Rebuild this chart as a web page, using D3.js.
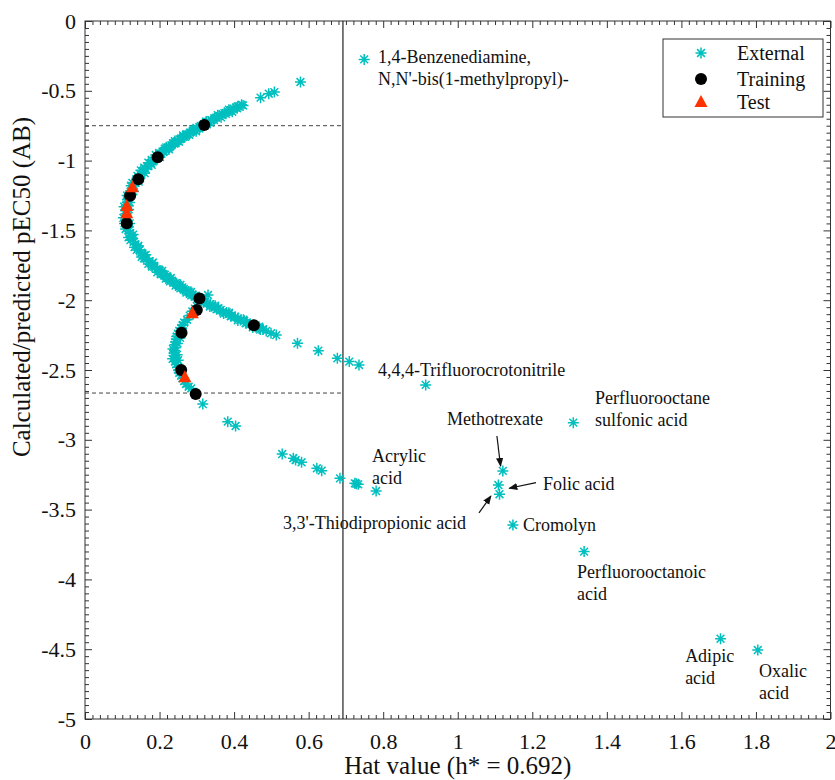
<!DOCTYPE html>
<html>
<head>
<meta charset="utf-8">
<script src="https://cdn.jsdelivr.net/npm/d3@7"></script>
<style>
  body { margin: 0; background: #fff; }
  svg { display: block; font-family: "Liberation Serif", "Times New Roman", serif; }
</style>
</head>
<body>
<svg id="chart" width="835" height="780"></svg>
<script>
// Williams-type applicability domain plot: hat value vs calculated/predicted pEC50
const hatThreshold = 0.692;
const domainBounds = [-0.75, -2.665];

const xTickValues = [0, 0.2, 0.4, 0.6, 0.8, 1, 1.2, 1.4, 1.6, 1.8, 2];
const xTickLabels = ["0", "0.2", "0.4", "0.6", "0.8", "1", "1.2", "1.4", "1.6", "1.8", "2"];
const yTickValues = [0, -0.5, -1, -1.5, -2, -2.5, -3, -3.5, -4, -4.5, -5];
const yTickLabels = ["0", "-0.5", "-1", "-1.5", "-2", "-2.5", "-3", "-3.5", "-4", "-4.5", "-5"];

// External set: [hat value, predicted pEC50]
const externalPoints = [
  // upper arm of the main band
  [0.420,-0.600],[0.410,-0.612],[0.405,-0.620],[0.399,-0.628],[0.389,-0.642],[0.383,-0.648],
  [0.374,-0.660],[0.369,-0.668],[0.360,-0.680],[0.352,-0.692],[0.347,-0.698],[0.339,-0.710],
  [0.331,-0.722],[0.326,-0.728],[0.319,-0.740],[0.311,-0.752],[0.307,-0.758],[0.300,-0.770],
  [0.293,-0.782],[0.289,-0.788],[0.282,-0.800],[0.275,-0.812],[0.271,-0.818],[0.264,-0.830],
  [0.258,-0.842],[0.254,-0.848],[0.248,-0.860],[0.242,-0.872],[0.239,-0.878],[0.232,-0.890],
  [0.227,-0.902],[0.224,-0.908],[0.218,-0.920],[0.212,-0.932],[0.210,-0.938],[0.204,-0.950],
  [0.199,-0.962],[0.197,-0.968],[0.192,-0.980],[0.184,-1.000],[0.177,-1.020],[0.168,-1.040],
  [0.163,-1.060],[0.155,-1.080],[0.150,-1.100],[0.143,-1.120],[0.140,-1.140],[0.134,-1.160],
  [0.131,-1.180],[0.126,-1.200],[0.124,-1.220],[0.119,-1.240],[0.118,-1.260],[0.114,-1.280],
  [0.113,-1.300],[0.111,-1.320],[0.112,-1.340],[0.109,-1.360],[0.110,-1.380],
  [0.105,-1.330],[0.113,-1.250],[0.124,-1.180],[0.141,-1.110],[0.159,-1.050],[0.179,-0.995],
  [0.199,-0.945],[0.218,-0.905],[0.241,-0.860],[0.263,-0.820],[0.290,-0.775],[0.325,-0.720],
  [0.356,-0.675],[0.386,-0.635],
  [0.120,-1.300],[0.130,-1.220],[0.144,-1.150],[0.160,-1.090],[0.179,-1.030],[0.201,-0.975],
  [0.225,-0.920],[0.252,-0.865],[0.280,-0.815],[0.307,-0.770],[0.346,-0.710],[0.378,-0.665],
  [0.408,-0.625],[0.424,-0.605],
  [0.117,-1.350],[0.116,-1.270],[0.127,-1.160],[0.150,-1.070],[0.170,-1.015],[0.190,-0.960],
  [0.214,-0.915],[0.236,-0.875],[0.268,-0.830],[0.298,-0.790],[0.336,-0.730],[0.365,-0.690],
  [0.395,-0.650],
  // lower arm of the main band
  [0.111,-1.400],[0.110,-1.420],[0.112,-1.440],[0.114,-1.460],[0.115,-1.480],[0.117,-1.500],
  [0.121,-1.520],[0.123,-1.540],[0.128,-1.560],[0.131,-1.580],[0.135,-1.600],[0.142,-1.620],
  [0.146,-1.640],[0.151,-1.660],[0.159,-1.680],[0.164,-1.700],[0.172,-1.720],[0.180,-1.740],
  [0.186,-1.760],[0.195,-1.780],[0.201,-1.788],[0.204,-1.800],[0.208,-1.812],[0.214,-1.818],
  [0.218,-1.830],[0.222,-1.842],[0.229,-1.848],[0.233,-1.860],[0.237,-1.872],[0.244,-1.878],
  [0.249,-1.890],[0.253,-1.902],[0.261,-1.908],[0.265,-1.920],[0.270,-1.932],[0.278,-1.938],
  [0.283,-1.950],[0.288,-1.962],[0.297,-1.968],[0.302,-1.980],[0.307,-1.992],[0.316,-1.998],
  [0.322,-2.010],[0.327,-2.022],[0.336,-2.028],[0.342,-2.040],[0.348,-2.052],[0.358,-2.058],
  [0.364,-2.070],[0.370,-2.082],[0.380,-2.088],[0.386,-2.100],[0.393,-2.112],[0.403,-2.118],
  [0.410,-2.130],[0.417,-2.142],[0.427,-2.148],[0.434,-2.160],[0.442,-2.172],[0.452,-2.178],
  [0.460,-2.190],[0.467,-2.202],[0.478,-2.208],[0.486,-2.220],
  [0.103,-1.410],[0.109,-1.490],[0.122,-1.570],[0.139,-1.640],[0.158,-1.700],[0.180,-1.760],
  [0.204,-1.815],[0.228,-1.865],[0.256,-1.915],[0.285,-1.965],[0.318,-2.015],[0.353,-2.065],
  [0.391,-2.115],[0.431,-2.165],[0.470,-2.210],
  [0.120,-1.450],[0.129,-1.530],[0.143,-1.610],[0.163,-1.675],[0.182,-1.730],[0.207,-1.790],
  [0.230,-1.840],[0.256,-1.890],[0.284,-1.940],[0.315,-1.990],[0.349,-2.040],[0.386,-2.090],
  [0.425,-2.140],[0.467,-2.190],[0.330,-1.963],
  [0.106,-1.450],[0.117,-1.550],[0.133,-1.620],[0.152,-1.690],[0.170,-1.740],[0.194,-1.800],
  [0.217,-1.845],[0.243,-1.895],[0.272,-1.945],[0.300,-1.995],[0.335,-2.045],[0.372,-2.095],
  [0.410,-2.145],[0.450,-2.195],
  // sparse tails of the main band
  [0.471,-0.549],[0.493,-0.521],[0.508,-0.509],[0.578,-0.437],[0.749,-0.275],
  [0.499,-2.237],[0.513,-2.250],[0.570,-2.309],[0.626,-2.362],[0.677,-2.416],[0.709,-2.440],
  [0.735,-2.464],[0.914,-2.607],[1.310,-2.877],
  // second band
  [0.295,-2.060],[0.288,-2.080],[0.281,-2.110],[0.274,-2.140],[0.266,-2.160],[0.262,-2.180],
  [0.258,-2.200],[0.253,-2.220],[0.250,-2.240],[0.246,-2.260],[0.245,-2.280],[0.243,-2.300],
  [0.241,-2.320],[0.242,-2.340],[0.240,-2.360],[0.239,-2.380],[0.241,-2.400],[0.243,-2.420],
  [0.242,-2.440],[0.245,-2.460],[0.248,-2.480],[0.251,-2.500],[0.253,-2.520],[0.258,-2.540],
  [0.262,-2.560],[0.266,-2.580],[0.271,-2.600],[0.278,-2.620],[0.285,-2.632],
  [0.248,-2.310],[0.247,-2.390],[0.236,-2.350],[0.235,-2.420],[0.250,-2.430],[0.255,-2.270],
  [0.263,-2.178],
  [0.316,-2.744],[0.383,-2.870],[0.404,-2.901],
  [0.529,-3.102],[0.559,-3.132],[0.565,-3.145],[0.581,-3.161],[0.622,-3.204],[0.635,-3.221],
  [0.684,-3.276],[0.724,-3.312],[0.728,-3.315],[0.733,-3.319],[0.781,-3.367],
  // outliers
  [1.121,-3.223],[1.109,-3.324],[1.112,-3.390],[1.148,-3.610],[1.339,-3.801],
  [1.705,-4.425],[1.805,-4.506]
];

// Training set
const trainingPoints = [
  [0.320,-0.745],[0.195,-0.976],[0.143,-1.134],[0.121,-1.251],[0.112,-1.449],
  [0.307,-1.987],[0.300,-2.070],[0.453,-2.180],[0.259,-2.233],[0.258,-2.500],[0.297,-2.672]
];

// Test set
const testPoints = [
  [0.127,-1.191],[0.112,-1.325],[0.112,-1.378],[0.288,-2.094],[0.268,-2.552]
];

// Compound labels, anchored at [hat value, pEC50] of the first line's baseline start
const annotations = [
  { lines: ["1,4-Benzenediamine,", "N,N'-bis(1-methylpropyl)-"], at: [0.786, -0.301] },
  { lines: ["4,4,4-Trifluorocrotonitrile"], at: [0.786, -2.543] },
  { lines: ["Perfluorooctane", "sulfonic acid"], at: [1.368, -2.744] },
  { lines: ["Methotrexate"], at: [0.971, -2.894] },
  { lines: ["Acrylic", "acid"], at: [0.770, -3.159] },
  { lines: ["Folic acid"], at: [1.229, -3.360] },
  { lines: ["3,3'-Thiodipropionic acid"], at: [0.531, -3.639] },
  { lines: ["Cromolyn"], at: [1.175, -3.653] },
  { lines: ["Perfluorooctanoic", "acid"], at: [1.320, -3.990] },
  { lines: ["Adipic", "acid"], at: [1.610, -4.592] },
  { lines: ["Oxalic", "acid"], at: [1.808, -4.699] }
];

const arrows = [
  { from: [1.105, -2.973], to: [1.115, -3.188] },
  { from: [1.210, -3.307], to: [1.138, -3.347] },
  { from: [1.057, -3.524], to: [1.089, -3.403] }
];

const legendItems = ["External", "Training", "Test"];

const colors = { external: "#00BFBF", training: "#000000", test: "#FF3300", axis: "#333333" };

const svg = d3.select("#chart");
const x = d3.scaleLinear().domain([0, 2]).range([85, 830.5]);
const y = d3.scaleLinear().domain([0, -5]).range([21, 719]);

const [x0, x1] = x.range();
const [y0, y1] = y.range();

const asteriskPath = "M-5.5,0H5.5M0,-5.5V5.5M-3.9,-3.9L3.9,3.9M-3.9,3.9L3.9,-3.9";
const trianglePath = "M0,-7L6.5,5L-6.5,5Z";

// Plot box
svg.append("rect")
  .attr("x", x0).attr("y", y0)
  .attr("width", x1 - x0).attr("height", y1 - y0)
  .attr("fill", "#fff").attr("stroke", colors.axis).attr("stroke-width", 1);

// Domain bounds (dashed) up to the warning leverage
svg.selectAll("line.bound").data(domainBounds).join("line")
  .attr("class", "bound")
  .attr("x1", x(0)).attr("x2", x(hatThreshold))
  .attr("y1", d => y(d)).attr("y2", d => y(d))
  .attr("stroke", "#444").attr("stroke-width", 1)
  .attr("stroke-dasharray", "4,3");

// Warning leverage h*
svg.append("line")
  .attr("x1", x(hatThreshold)).attr("x2", x(hatThreshold))
  .attr("y1", y0).attr("y2", y1)
  .attr("stroke", "#222").attr("stroke-width", 1.2);

// Points
svg.append("g").selectAll("path").data(externalPoints).join("path")
  .attr("d", asteriskPath)
  .attr("transform", d => `translate(${x(d[0])},${y(d[1])})`)
  .attr("fill", "none").attr("stroke", colors.external).attr("stroke-width", 1.5);

svg.append("g").selectAll("circle").data(trainingPoints).join("circle")
  .attr("cx", d => x(d[0])).attr("cy", d => y(d[1])).attr("r", 6)
  .attr("fill", colors.training);

svg.append("g").selectAll("path").data(testPoints).join("path")
  .attr("d", trianglePath)
  .attr("transform", d => `translate(${x(d[0])},${y(d[1])})`)
  .attr("fill", colors.test);

// Labels
const labelG = svg.append("g").attr("font-size", 18).attr("fill", "#111");
annotations.forEach(a => {
  const t = labelG.append("text").attr("x", x(a.at[0])).attr("y", y(a.at[1]));
  a.lines.forEach((line, i) => {
    t.append("tspan").attr("x", x(a.at[0])).attr("dy", i === 0 ? 0 : 22).text(line);
  });
});

// Arrows
const defs = svg.append("defs");
defs.append("marker")
  .attr("id", "arrowhead").attr("viewBox", "0 0 10 10")
  .attr("refX", 9).attr("refY", 5)
  .attr("markerWidth", 9).attr("markerHeight", 9)
  .attr("markerUnits", "userSpaceOnUse")
  .attr("orient", "auto")
  .append("path").attr("d", "M0,1L10,5L0,9Z").attr("fill", "#111");

svg.append("g").selectAll("line").data(arrows).join("line")
  .attr("x1", d => x(d.from[0])).attr("y1", d => y(d.from[1]))
  .attr("x2", d => x(d.to[0])).attr("y2", d => y(d.to[1]))
  .attr("stroke", "#111").attr("stroke-width", 1.2)
  .attr("marker-end", "url(#arrowhead)");

// Axes with inward ticks on all four sides
const minorX = d3.range(0, 101).map(i => i * 0.02).filter(v => !xTickValues.some(t => Math.abs(t - v) < 1e-6));
const minorY = d3.range(0, 101).map(i => -i * 0.05).filter(v => !yTickValues.some(t => Math.abs(t - v) < 1e-6));

function styleAxis(g) {
  g.select(".domain").remove();
  g.selectAll(".tick line").attr("stroke", colors.axis);
  g.selectAll("text").attr("fill", "#111").attr("font-family", "Liberation Serif, serif");
}

svg.append("g").attr("transform", `translate(0,${y1})`)
  .call(d3.axisBottom(x).tickValues(xTickValues).tickFormat((d, i) => xTickLabels[i])
    .tickSizeInner(-7).tickSizeOuter(0).tickPadding(14))
  .call(styleAxis)
  .call(g => g.selectAll("text").attr("font-size", 22));
svg.append("g").attr("transform", `translate(0,${y1})`)
  .call(d3.axisBottom(x).tickValues(minorX).tickFormat("").tickSizeInner(-4).tickSizeOuter(0))
  .call(styleAxis);

svg.append("g").attr("transform", `translate(0,${y0})`)
  .call(d3.axisTop(x).tickValues(xTickValues).tickFormat("").tickSizeInner(-7).tickSizeOuter(0))
  .call(styleAxis);
svg.append("g").attr("transform", `translate(0,${y0})`)
  .call(d3.axisTop(x).tickValues(minorX).tickFormat("").tickSizeInner(-4).tickSizeOuter(0))
  .call(styleAxis);

svg.append("g").attr("transform", `translate(${x0},0)`)
  .call(d3.axisLeft(y).tickValues(yTickValues).tickFormat((d, i) => yTickLabels[i])
    .tickSizeInner(-7).tickSizeOuter(0).tickPadding(9))
  .call(styleAxis)
  .call(g => g.selectAll("text").attr("font-size", 22));
svg.append("g").attr("transform", `translate(${x0},0)`)
  .call(d3.axisLeft(y).tickValues(minorY).tickFormat("").tickSizeInner(-4).tickSizeOuter(0))
  .call(styleAxis);

svg.append("g").attr("transform", `translate(${x1},0)`)
  .call(d3.axisRight(y).tickValues(yTickValues).tickFormat("").tickSizeInner(-7).tickSizeOuter(0))
  .call(styleAxis);
svg.append("g").attr("transform", `translate(${x1},0)`)
  .call(d3.axisRight(y).tickValues(minorY).tickFormat("").tickSizeInner(-4).tickSizeOuter(0))
  .call(styleAxis);

// Axis titles
svg.append("text")
  .attr("x", (x0 + x1) / 2).attr("y", 774)
  .attr("text-anchor", "middle").attr("font-size", 25).attr("fill", "#111")
  .text(`Hat value (h* = ${hatThreshold})`);

svg.append("text")
  .attr("transform", "translate(30,287) rotate(-90)")
  .attr("text-anchor", "middle").attr("font-size", 25).attr("fill", "#111")
  .text("Calculated/predicted pEC50 (AB)");

// Legend
const legend = svg.append("g").attr("transform", "translate(663,39)");
legend.append("rect").attr("width", 160).attr("height", 78)
  .attr("fill", "#fff").attr("stroke", colors.axis).attr("stroke-width", 1);
const rowY = [14, 40, 63];
legendItems.forEach((name, i) => {
  const row = legend.append("g").attr("transform", `translate(38,${rowY[i]})`);
  if (i === 0) row.append("path").attr("d", asteriskPath).attr("fill", "none")
    .attr("stroke", colors.external).attr("stroke-width", 1.5);
  if (i === 1) row.append("circle").attr("r", 6).attr("fill", colors.training);
  if (i === 2) row.append("path").attr("d", trianglePath).attr("fill", colors.test);
  legend.append("text").attr("x", 74).attr("y", rowY[i] + 7)
    .attr("font-size", 20).attr("fill", "#111").text(name);
});
</script>
</body>
</html>
